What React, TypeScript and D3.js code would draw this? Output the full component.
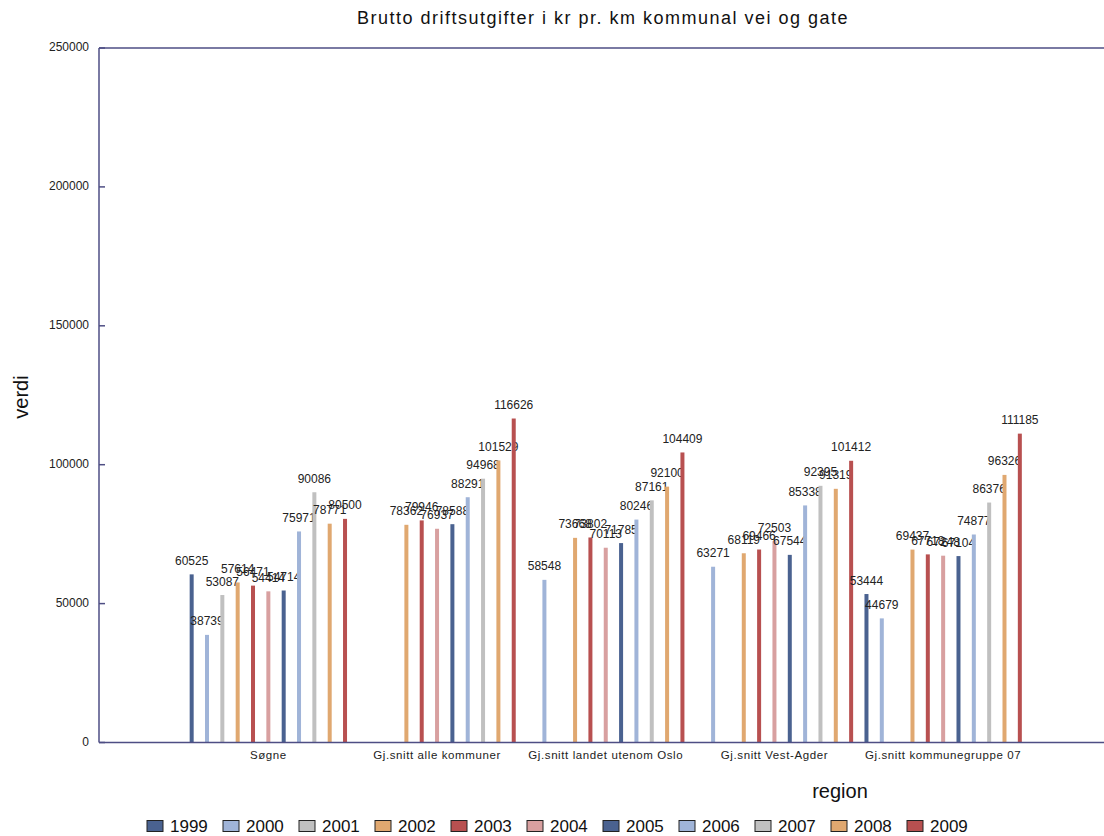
import React from "react";
import * as d3 from "d3";

const title = "Brutto driftsutgifter i kr pr. km kommunal vei og gate";
const years = ["1999", "2000", "2001", "2002", "2003", "2004", "2005", "2006", "2007", "2008", "2009"];
const regions = [
  "Søgne",
  "Gj.snitt alle kommuner",
  "Gj.snitt landet utenom Oslo",
  "Gj.snitt Vest-Agder",
  "Gj.snitt kommunegruppe 07",
];
const soegne = [60525, 38739, 53087, 57614, 56471, 54414, 54714, 75971, 90086, 78771, 80500];
const alleKommuner = [null, null, null, 78362, 79946, 76937, 78588, 88291, 94968, 101529, 116626];
const landetUtenomOslo = [null, 58548, null, 73668, 73802, 70113, 71785, 80246, 87161, 92100, 104409];
const vestAgder = [null, 63271, null, 68119, 69466, 72503, 67544, 85338, 92395, 91319, 101412];
const kommunegruppe07 = [53444, 44679, null, 69437, 67718, 67248, 67104, 74877, 86376, 96326, 111185];
const yTicks = [0, 50000, 100000, 150000, 200000, 250000];
const yearColors = [
  "#4a6290", "#a0b4d8", "#c0c0c0", "#e0a870", "#b85050", "#d8a0a0",
  "#4a6290", "#a0b4d8", "#c0c0c0", "#e0a870", "#b85050",
];

const seriesByRegion: (number | null)[][] = [soegne, alleKommuner, landetUtenomOslo, vestAgder, kommunegruppe07];

export default function App() {
  const W = 1104, H = 836;
  const left = 99, right = 1104, top = 48, bottom = 742.5;
  const axisColor = "#4e4e84";
  const font = "'Liberation Sans', Arial, sans-serif";

  const y = d3.scaleLinear().domain([0, 250000]).range([bottom, top]);
  const x0 = d3.scaleBand<string>().domain(regions).range([184, 1027.5]).padding(0);
  const x1 = d3.scaleBand<string>().domain(years).range([0, x0.bandwidth()]).padding(0);
  const barW = 4;
  const legendX = d3.scaleBand<string>().domain(years).range([147, 147 + 76 * years.length]);

  return (
    <svg width={W} height={H} style={{ position: "absolute", left: 0, top: 0, background: "#fff" }} fontFamily={font}>
      <rect x={0} y={0} width={W} height={H} fill="#fff" />
      <text x={603} y={24} textAnchor="middle" fontSize={18} letterSpacing={1.5} fill="#111">{title}</text>

      {/* y tick labels and ticks */}
      {yTicks.map((t) => (
        <g key={t}>
          <text x={89} y={y(t) - 1} dy="0.35em" textAnchor="end" fontSize={12} fill="#222">{t}</text>
          <line x1={left} x2={left + 6} y1={y(t)} y2={y(t)} stroke={axisColor} strokeWidth={1.5} />
        </g>
      ))}

      {/* bars */}
      {regions.map((r, ri) =>
        years.map((yr, yi) => {
          const v = seriesByRegion[ri][yi];
          if (v == null) return null;
          const cx = (x0(r) as number) + (x1(yr) as number) + x1.bandwidth() / 2;
          return (
            <g key={r + yr}>
              <rect x={cx - barW / 2} y={y(v)} width={barW} height={bottom - y(v)} fill={yearColors[yi]} />
              <text x={cx} y={y(v) - 9.5} textAnchor="middle" fontSize={12} fill="#222">{v}</text>
            </g>
          );
        })
      )}

      {/* axes lines */}
      <line x1={left} x2={left} y1={top} y2={bottom} stroke={axisColor} strokeWidth={1.5} />
      <line x1={left} x2={right} y1={top} y2={top} stroke={axisColor} strokeWidth={1.5} />
      <line x1={left} x2={right} y1={bottom} y2={bottom} stroke={axisColor} strokeWidth={1.5} />

      {/* category labels */}
      {regions.map((r) => (
        <text key={r} x={(x0(r) as number) + x0.bandwidth() / 2} y={759} textAnchor="middle" fontSize={11.5} letterSpacing={0.6} fill="#222">{r}</text>
      ))}

      <text x={840} y={798} textAnchor="middle" fontSize={20} fill="#111">region</text>
      <text transform={`translate(28,397) rotate(-90)`} textAnchor="middle" fontSize={20} fill="#111">verdi</text>

      {/* legend */}
      {years.map((yr, i) => {
        const lx = legendX(yr) as number;
        return (
          <g key={yr}>
            <rect x={lx} y={820.5} width={16} height={11} fill={yearColors[i]} stroke="#222" strokeWidth={1} />
            <text x={lx + 23} y={831.5} fontSize={17} fill="#111">{yr}</text>
          </g>
        );
      })}
    </svg>
  );
}
